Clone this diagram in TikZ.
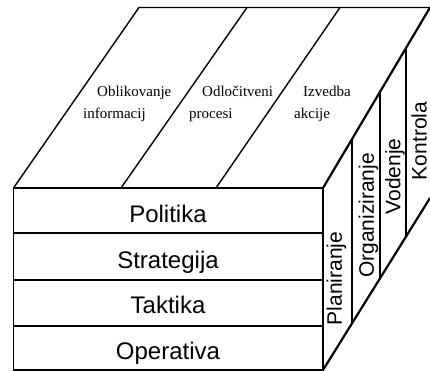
\documentclass[tikz,border=0pt]{standalone}
\usepackage{fontspec}
\setmainfont{Liberation Sans}
\newfontfamily\topserif{Liberation Serif}
\usetikzlibrary{calc}
\begin{document}
\begin{tikzpicture}[x=1pt,y=-1pt,
  edge/.style={line width=1.7pt, line join=miter},
  slant/.style={line width=2.2pt},
  divider/.style={line width=1.4pt},
  rowtext/.style={font=\fontsize{24}{28}\selectfont, inner sep=0pt, anchor=base},
  sidetext/.style={font=\fontsize{21}{25}\selectfont, rotate=90, inner sep=0pt, anchor=center},
  toptext/.style={font=\topserif\fontsize{15}{18}\selectfont, anchor=base west, inner sep=0pt}]
\useasboundingbox (0,0) rectangle (430,371);
% corners
\coordinate (FTL) at (13.5,188);
\coordinate (FTR) at (323,188);
\coordinate (FBL) at (13.5,370);
\coordinate (FBR) at (323,370);
\coordinate (BTL) at (139,7.5);
\coordinate (BTR) at (430,7.5);
\coordinate (BBR) at (430,198);
% front face
\draw[edge] (FTL) rectangle (FBR);
\foreach \y/\n in {233.3/r1,280/r2,325.7/r3}{
  \coordinate (\n L) at (13.5,\y);
  \coordinate (\n R) at (323,\y);
  \draw[edge] (\n L) -- (\n R);
}
% top face
\draw[divider] (FTL) -- (BTL) -- (BTR);
\draw[slant] (FTR) -- (BTR);
\coordinate (d1a) at (121,188); \coordinate (d1b) at (247,7.5);
\coordinate (d2a) at (216,188); \coordinate (d2b) at (340,7.5);
\draw[divider] (d1a) -- (d1b);
\draw[divider] (d2a) -- (d2b);
% right face
\draw[slant] (FBR) -- (BBR);
\foreach \x/\n in {352/v1,380/v2,406/v3}{
  \coordinate (\n t) at ($(FTR)!{(\x-323)/107}!(BTR)$);
  \coordinate (\n b) at ($(FBR)!{(\x-323)/107}!(BBR)$);
  \draw[divider] (\n t) -- (\n b);
}
% front labels
\node[rowtext] (pol) at (168,222.5) {Politika};
\node[rowtext] (str) at (168,268) {Strategija};
\node[rowtext] (tak) at (168,313.5) {Taktika};
\node[rowtext] (ope) at (168,359) {Operativa};
% top labels
\node[toptext] (t1a) at (97,97) {Oblikovanje};
\node[toptext] (t1b) at (83,119) {informacij};
\node[toptext] (t2a) at (202,97) {Odločitveni};
\node[toptext] (t2b) at (189,119) {procesi};
\node[toptext] (t3a) at (303,97) {Izvedba};
\node[toptext] (t3b) at (294,119) {akcije};
% side labels
\node[sidetext] (pla) at (336.5,278.5) {Planiranje};
\node[sidetext] (org) at (368.5,215.5) {Organiziranje};
\node[sidetext] (vod) at (395,176.5) {Vodenje};
\node[sidetext] (kon) at (419,141) {Kontrola};
\end{tikzpicture}
\end{document}
